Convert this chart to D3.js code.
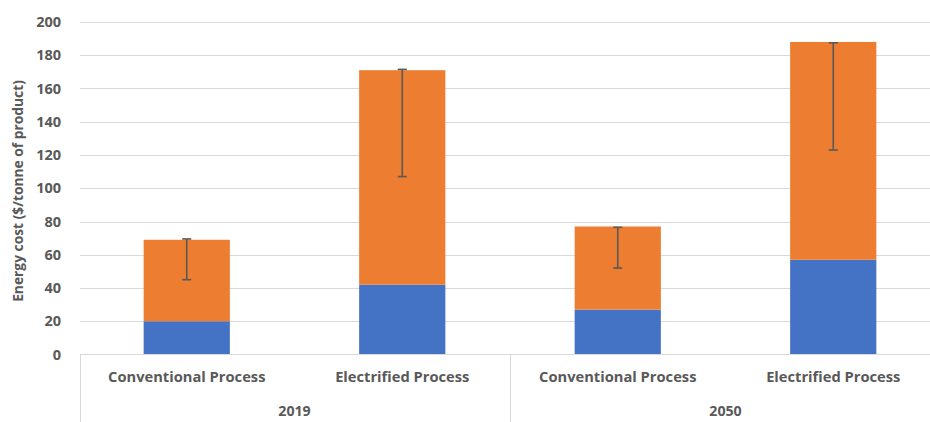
<!DOCTYPE html>
<html><head><meta charset="utf-8">
<script src="https://cdn.jsdelivr.net/npm/d3@7"></script>
<style>body{margin:0;background:#fff}svg{display:block}</style>
</head><body>
<svg id="c" width="930" height="422"></svg>
<script>
const groups = ["2019", "2019", "2050", "2050"];
const categories = ["Conventional Process", "Electrified Process", "Conventional Process", "Electrified Process"];
const years = ["2019", "2050"];
const blueValues = [20, 42, 27, 57];
const orangeValues = [49, 129, 50, 131];
const errLow = [45, 107, 52, 123];
const errHigh = [69.5, 171.5, 76.5, 187.5];
const yTicks = [0, 20, 40, 60, 80, 100, 120, 140, 160, 180, 200];

const svg = d3.select("#c");
const font = "'Open Sans', sans-serif";
const gray = "#595959";
const ids = categories.map((c, i) => i);
const x = d3.scaleBand().domain(ids).range([79, 941]).paddingInner(0.6).paddingOuter(0.3);
const y = d3.scaleLinear().domain([0, 200]).range([354.5, 22]);

// gridlines
svg.append("g").selectAll("line").data(yTicks.filter(t => t > 0)).join("line")
  .attr("x1", 80).attr("x2", 930)
  .attr("y1", d => Math.round(y(d)) + 0.5).attr("y2", d => Math.round(y(d)) + 0.5)
  .attr("stroke", "#d9d9d9").attr("stroke-width", 1);

// y tick labels
svg.append("g").selectAll("text").data(yTicks).join("text")
  .attr("x", 61).attr("y", d => y(d)).attr("dy", "0.35em")
  .attr("text-anchor", "end").attr("font-family", font).attr("font-weight", "bold")
  .attr("font-size", 14.5).attr("fill", gray).text(d => d);

// y axis title
svg.append("text").attr("transform", "translate(23,191) rotate(-90)")
  .attr("text-anchor", "middle").attr("font-family", font).attr("font-weight", "bold")
  .attr("font-size", 13.8).attr("fill", gray).text("Energy cost ($/tonne of product)");

// bars
const bars = svg.append("g");
bars.selectAll("rect.b").data(ids).join("rect").attr("class", "b")
  .attr("x", i => x(i)).attr("width", x.bandwidth())
  .attr("y", i => y(blueValues[i])).attr("height", i => y(0) - y(blueValues[i]))
  .attr("fill", "#4472C4");
bars.selectAll("rect.o").data(ids).join("rect").attr("class", "o")
  .attr("x", i => x(i)).attr("width", x.bandwidth())
  .attr("y", i => y(blueValues[i] + orangeValues[i]))
  .attr("height", i => y(blueValues[i]) - y(blueValues[i] + orangeValues[i]))
  .attr("fill", "#ED7D31");

// error bars
const eb = svg.append("g").attr("stroke", gray).attr("stroke-width", 1.6);
ids.forEach(i => {
  const cx = x(i) + x.bandwidth() / 2;
  eb.append("line").attr("x1", cx).attr("x2", cx).attr("y1", y(errLow[i])).attr("y2", y(errHigh[i]));
  eb.append("line").attr("x1", cx - 4.5).attr("x2", cx + 4.5).attr("y1", y(errLow[i])).attr("y2", y(errLow[i]));
  eb.append("line").attr("x1", cx - 4.5).attr("x2", cx + 4.5).attr("y1", y(errHigh[i])).attr("y2", y(errHigh[i]));
});

// x axis box
const ax = svg.append("g").attr("stroke", "#d9d9d9").attr("stroke-width", 1);
ax.append("line").attr("x1", 80).attr("x2", 930).attr("y1", 354.5).attr("y2", 354.5);
const step = x.step();
const divider = x(2) - x.paddingInner() * step / 2;
ax.append("line").attr("x1", 80.5).attr("x2", 80.5).attr("y1", 354.5).attr("y2", 422);
ax.append("line").attr("x1", Math.round(divider) + 0.5).attr("x2", Math.round(divider) + 0.5).attr("y1", 354.5).attr("y2", 422);

// category labels
svg.append("g").selectAll("text").data(ids).join("text")
  .attr("x", i => x(i) + x.bandwidth() / 2).attr("y", 382)
  .attr("text-anchor", "middle").attr("font-family", font).attr("font-weight", "bold")
  .attr("font-size", 14.7).attr("fill", gray).text(i => categories[i]);

// year labels
svg.append("g").selectAll("text").data(years).join("text")
  .attr("x", d => {
    const idx = groups.map((g, i) => g === d ? i : -1).filter(i => i >= 0);
    return (x(idx[0]) + x(idx[idx.length - 1]) + x.bandwidth()) / 2;
  })
  .attr("y", 416).attr("text-anchor", "middle").attr("font-family", font).attr("font-weight", "bold")
  .attr("font-size", 14.2).attr("fill", gray).text(d => d);
</script>
</body></html>
